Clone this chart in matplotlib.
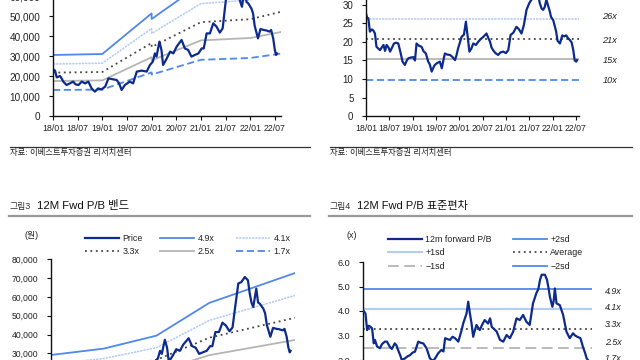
import matplotlib
matplotlib.use("Agg")
import matplotlib.pyplot as plt
from matplotlib.lines import Line2D
from matplotlib.ticker import FuncFormatter, FixedLocator

# ---------------- data ----------------
# months since 2018/01
price_m = [0, 0.5, 0.9, 1.7, 2.1, 2.5, 3.3, 4.1, 4.9, 5.5, 6.2, 7.0, 7.8, 8.6, 9.4, 10.2, 11.0, 11.8,
           12.7, 13.5, 14.7, 15.5, 16.1, 16.7, 17.5, 18.7, 19.5, 20.4, 21.6, 22.8, 23.6, 24.3, 24.8,
           25.2, 25.9, 26.4, 26.8, 27.7, 28.5, 29.3, 30.1, 31.3, 32.1, 32.9, 33.7, 34.5, 35.4, 36.2,
           36.7, 37.4, 38.2, 39.0, 39.8, 40.6, 41.3, 41.8, 42.6, 43.3, 44.1, 44.8, 45.2, 45.6, 46.0,
           46.7, 47.1, 47.5, 48.3, 48.7, 49.1, 49.9, 50.5, 51.3, 51.9, 52.7, 53.1, 53.6, 54.0, 54.3, 54.5]
price = [23300, 22700, 19300, 20000, 18800, 17200, 15500, 16300, 17200, 15800, 15500, 17200, 16300,
         17200, 13800, 12200, 13800, 13300, 14700, 18800, 18300, 18000, 16300, 13000, 15500, 17200,
         16300, 22200, 22700, 22200, 25500, 27200, 31300, 29700, 37200, 33000, 25500, 28800, 32200,
         31300, 34700, 38000, 33800, 33000, 29700, 30500, 31300, 33800, 33800, 41300, 41300, 46300,
         44700, 41700, 43800, 53000, 67100, 67900, 70600, 68800, 61900, 57000, 54600, 64400, 57000,
         56400, 53700, 51300, 45000, 38800, 43500, 43000, 42800, 42200, 43000, 38800, 33000, 30500, 31300]

# P/E band lines (top-left), values at knot months
pe_band_m = [0, 12, 24, 24.01, 36, 48, 55.5]
pe_band_a = [30500, 31000, 51300, 48500, 65900, 68000, 73200]
pe_band_b = [26000, 26400, 43700, 41300, 56200, 58000, 62400]
pe_band_c = [21700, 22000, 36500, 34500, 46900, 48400, 52100]
pe_band_d = [17500, 17800, 29400, 27800, 37800, 39000, 42000]
pe_band_e = [13000, 13200, 21800, 20700, 28100, 29000, 31200]

# 12M Fwd P/E (top-right)
pe_m = [0, 0.3, 0.6, 1.0, 1.5, 1.9, 2.3, 2.7, 3.2, 3.6, 4.1, 4.5, 4.9, 5.3, 5.8, 6.2, 6.7, 7.2, 7.8,
        8.3, 8.8, 9.4, 10.0, 10.5, 10.9, 11.5, 12.2, 12.6, 13.0, 13.6, 14.3, 14.8, 15.4, 16.0, 16.4,
        16.9, 17.3, 17.7, 18.3, 19.0, 19.5, 20.0, 20.3, 20.9, 21.6, 22.2, 22.9, 23.3, 23.7, 24.2,
        24.6, 25.2, 25.7, 26.1, 26.6, 27.1, 27.6, 28.3, 28.9, 29.5, 30.2, 31.0, 31.5, 31.9, 32.3,
        32.7, 33.3, 34.0, 34.6, 35.3, 36.0, 36.6, 37.2, 37.9, 38.7, 39.3, 40.0, 40.6, 41.3, 42.0,
        42.6, 43.3, 44.1, 44.7, 45.2, 45.6, 46.0, 46.4, 46.8, 47.3, 47.6, 48.2, 48.9, 49.3, 49.9,
        50.5, 51.0, 51.5, 52.0, 52.4, 52.9, 53.3, 53.7, 54.1, 54.3]
pe = [27.7, 26.5, 26.4, 22.8, 23.4, 23.1, 22.3, 18.7, 18.2, 17.8, 18.6, 19.2, 17.6, 19.2, 18.5, 17.4,
      18.5, 19.6, 19.8, 19.6, 17.5, 14.7, 13.8, 15.0, 15.6, 15.8, 15.9, 15.0, 19.6, 19.0, 18.7, 17.5,
      16.9, 14.7, 14.0, 12.0, 13.0, 13.8, 14.3, 14.7, 12.9, 15.5, 16.9, 16.6, 16.5, 16.0, 15.1, 16.5,
      18.3, 20.0, 21.4, 22.0, 25.5, 22.0, 17.4, 18.2, 19.6, 19.2, 20.1, 20.8, 21.4, 22.3, 21.0, 20.1,
      18.5, 17.8, 17.0, 16.5, 17.2, 17.4, 17.0, 17.8, 21.9, 22.5, 24.1, 23.5, 22.3, 24.5, 28.7, 30.5,
      31.5, 33.0, 34.0, 30.5, 29.0, 28.7, 29.5, 31.5, 30.0, 28.2, 26.8, 25.8, 22.9, 20.3, 19.6, 21.8,
      21.5, 21.8, 21.0, 20.6, 19.9, 18.0, 15.0, 14.7, 15.1]
pe_levels = [26.3, 20.9, 15.3, 9.7]
pe_level_labels = ["26x", "21x", "15x", "10x"]
pe_label_y = [26.8, 20.5, 14.9, 9.7]

# P/B band lines (bottom-left)
pb_band_m = [0, 12, 24, 36, 55.5]
pb_band_49 = [29100, 32500, 39400, 56800, 72700]
pb_band_41 = [24300, 27200, 33000, 47500, 60800]
pb_band_33 = [19600, 21900, 26500, 38300, 48900]
pb_band_25 = [14800, 16600, 20100, 29000, 37100]
pb_band_17 = [10100, 11300, 13700, 19700, 25200]

# 12M Fwd P/B (bottom-right)
pb_m = [0, 0.6, 1.0, 1.4, 1.8, 2.2, 2.6, 2.9, 3.4, 4.1, 4.6, 5.3, 5.8, 6.5, 7.0, 7.7, 8.1, 8.5, 9.0,
        9.4, 10.2, 10.8, 11.4, 12.0, 12.6, 13.4, 14.0, 14.6, 15.4, 16.2, 17.0, 17.6, 18.2, 19.0, 19.5,
        19.9, 20.5, 21.1, 21.7, 22.3, 23.1, 23.9, 24.3, 24.7, 25.1, 25.5, 25.9, 26.3, 26.7, 27.1,
        27.5, 28.3, 28.9, 29.5, 30.3, 30.8, 31.2, 31.6, 32.4, 33.2, 34.0, 34.8, 35.6, 36.4, 37.2,
        38.0, 38.8, 39.6, 40.4, 41.2, 42.0, 42.5, 42.9, 43.3, 44.1, 44.6, 45.0, 45.3, 45.9, 46.2,
        46.5, 46.9, 47.7, 48.5, 49.3, 50.1, 50.9, 51.4, 51.9, 52.7, 53.3, 53.8, 54.2, 54.5]
pb = [4.04, 3.90, 3.22, 3.40, 3.36, 3.29, 2.68, 2.82, 2.55, 2.48, 2.65, 2.75, 2.75, 2.54, 2.45, 2.68,
      2.60, 2.41, 2.20, 2.00, 2.07, 2.15, 2.20, 2.30, 2.34, 2.75, 2.70, 2.68, 2.48, 2.07, 1.95, 2.10,
      2.27, 2.41, 2.35, 2.89, 2.85, 2.82, 2.95, 2.89, 2.75, 3.22, 3.50, 3.70, 3.90, 4.38, 3.91, 3.50,
      2.95, 3.20, 3.43, 3.22, 3.45, 3.63, 3.49, 3.70, 3.35, 3.29, 3.16, 2.82, 2.75, 3.02, 2.89, 3.16,
      3.70, 3.63, 3.84, 3.56, 3.43, 4.31, 4.72, 4.90, 5.27, 5.48, 5.48, 5.27, 4.90, 4.58, 4.17, 4.40,
      4.92, 4.31, 4.24, 3.84, 3.16, 2.89, 3.09, 3.00, 2.95, 2.89, 2.54, 2.30, 2.07, 2.00]
pb_levels = [4.88, 4.07, 3.27, 2.47, 1.66]
pb_level_labels = ["4.9x", "4.1x", "3.3x", "2.5x", "1.7x"]
pb_label_y = [4.79, 4.13, 3.46, 2.72, 2.07]

xtick_pos = [0, 6, 12, 18, 24, 30, 36, 42, 48, 54]
xtick_labels = ["18/01", "18/07", "19/01", "19/07", "20/01", "20/07", "21/01", "21/07", "22/01", "22/07"]

# ---------------- style ----------------
plt.rcParams['font.family'] = ['Liberation Sans', 'Noto Sans CJK KR', 'DejaVu Sans']
plt.rcParams['axes.unicode_minus'] = False

NAVY = '#0d2a8e'
BLUE = '#5088ec'
LBLUE = '#b4cbf5'
DOT = '#444444'
GRAY = '#b5b5b5'
TXT = '#222222'
LFS = 6.4   # legend font size

W, H = 640, 360
fig = plt.figure(figsize=(6.4, 3.6), dpi=100)


def add_ax(l, r, top_px, bottom_px, yfs, xfs=6.3):
    ax = fig.add_axes([l / W, (H - bottom_px) / H, (r - l) / W, (bottom_px - top_px) / H])
    for s in ('top', 'right'):
        ax.spines[s].set_visible(False)
    for s in ('left', 'bottom'):
        ax.spines[s].set_linewidth(1.0)
        ax.spines[s].set_color('#111111')
    ax.tick_params(axis='both', colors='#111111', labelcolor=TXT, length=3, width=0.8)
    ax.tick_params(axis='y', pad=6, labelsize=yfs)
    ax.tick_params(axis='x', pad=2.5, labelsize=xfs)
    ax.set_facecolor('none')
    return ax


thousands = FuncFormatter(lambda v, p: f"{int(v):,}")

# ---- top-left: P/E band
ax1 = add_ax(53, 281, -24, 116, 7.2)
ax1.set_xlim(0, 55.5)
ax1.set_ylim(0, 70000)
ax1.plot(pe_band_m, pe_band_a, color=BLUE, lw=1.3)
ax1.plot(pe_band_m, pe_band_b, color=LBLUE, lw=1.1, ls=(0, (1.5, 0.6)))
ax1.plot(pe_band_m, pe_band_c, color=DOT, lw=1.3, ls=(0, (1, 2)))
ax1.plot(pe_band_m, pe_band_d, color=GRAY, lw=1.3)
ax1.plot(pe_band_m, pe_band_e, color=BLUE, lw=1.3, ls=(0, (4, 2)))
ax1.plot(price_m, price, color=NAVY, lw=1.6)
ax1.yaxis.set_major_locator(FixedLocator(range(0, 70001, 10000)))
ax1.yaxis.set_major_formatter(thousands)
ax1.set_xticks(xtick_pos, xtick_labels)

# ---- top-right: P/E
ax2 = add_ax(366, 579, -13.5, 116, 7.0)
ax2.set_xlim(0, 54.8)
ax2.set_ylim(0, 35)
ax2.axhline(pe_levels[0], color=LBLUE, lw=1.1, ls=(0, (1.5, 0.6)))
ax2.axhline(pe_levels[1], color=DOT, lw=1.3, ls=(0, (1, 2)))
ax2.axhline(pe_levels[2], color=GRAY, lw=1.3)
ax2.axhline(pe_levels[3], color=BLUE, lw=1.3, ls=(0, (4, 2)))
ax2.plot(pe_m, pe, color=NAVY, lw=1.6)
ax2.yaxis.set_major_locator(FixedLocator(range(0, 31, 5)))
ax2.set_xticks(xtick_pos, xtick_labels)
for lab, yv in zip(pe_level_labels, pe_label_y):
    ax2.text(1.11, yv, lab, transform=ax2.get_yaxis_transform(), fontsize=6.6,
             style='italic', va='center', ha='left', color=TXT)

# ---- bottom-left: P/B band
ax3 = add_ax(51, 295, 259.3, 409.7, 6.2)
ax3.set_xlim(0, 55.5)
ax3.set_ylim(0, 80000)
h_price, = ax3.plot(price_m, price, color=NAVY, lw=1.6, label='Price', zorder=5)
h49, = ax3.plot(pb_band_m, pb_band_49, color=BLUE, lw=1.3, label='4.9x')
h41, = ax3.plot(pb_band_m, pb_band_41, color=LBLUE, lw=1.1, ls=(0, (1.5, 0.6)), label='4.1x')
h33, = ax3.plot(pb_band_m, pb_band_33, color=DOT, lw=1.3, ls=(0, (1, 2)), label='3.3x')
h25, = ax3.plot(pb_band_m, pb_band_25, color=GRAY, lw=1.3, label='2.5x')
h17, = ax3.plot(pb_band_m, pb_band_17, color=BLUE, lw=1.3, ls=(0, (4, 2)), label='1.7x')
ax3.yaxis.set_major_locator(FixedLocator(range(0, 80001, 10000)))
ax3.yaxis.set_major_formatter(thousands)
ax3.set_xticks(xtick_pos, xtick_labels)

# ---- bottom-right: P/B std
ax4 = add_ax(363, 592, 262, 409, 6.6)
ax4.set_xlim(0, 55.5)
ax4.set_ylim(0, 6)
g_p2 = ax4.axhline(pb_levels[0], color=BLUE, lw=1.3, label='+2sd')
g_p1 = ax4.axhline(pb_levels[1], color=LBLUE, lw=1.5, label='+1sd')
g_av = ax4.axhline(pb_levels[2], color=DOT, lw=1.3, ls=(0, (1, 2)), label='Average')
g_m1 = ax4.axhline(pb_levels[3], color=GRAY, lw=1.3, ls=(0, (6, 3)), label='\u22121sd')
g_m2 = ax4.axhline(pb_levels[4], color=BLUE, lw=1.3, label='\u22122sd')
g_pb, = ax4.plot(pb_m, pb, color=NAVY, lw=1.6, label='12m forward P/B', zorder=5)
ax4.yaxis.set_major_locator(FixedLocator([0, 1, 2, 3, 4, 5, 6]))
ax4.yaxis.set_major_formatter(FuncFormatter(lambda v, p: f"{v:.1f}"))
ax4.set_xticks(xtick_pos, xtick_labels)
for lab, yv in zip(pb_level_labels, pb_label_y):
    ax4.text(1.057, yv, lab, transform=ax4.get_yaxis_transform(), fontsize=6.4,
             style='italic', va='center', ha='left', color=TXT)


# ---- legends (one per column)
def col_legend(handles, x_px, top_px):
    leg = fig.legend(handles=handles, loc='upper left', bbox_to_anchor=(x_px / W, (H - top_px) / H),
                     bbox_transform=fig.transFigure, frameon=False, fontsize=LFS, handlelength=3.8,
                     handletextpad=0.4, borderpad=0, borderaxespad=0, labelspacing=0.5)
    for t in leg.get_texts():
        t.set_color(TXT)
    return leg


col_legend([h_price, h33], 85, 234)
col_legend([h49, h25], 160, 234)
col_legend([h41, h17], 236, 234)
col_legend([g_pb, g_p1, g_m1], 388, 235)
col_legend([g_p2, g_av, g_m2], 513, 235)

# ---- texts and rules
src = '자료: 이베스트투자증권 리서치센터'
fig.text(10 / W, 1 - 153 / H, src, fontsize=6.0, va='center', ha='left', color=TXT)
fig.text(330 / W, 1 - 153 / H, src, fontsize=6.0, va='center', ha='left', color=TXT)
fig.add_artist(Line2D([10 / W, 310 / W], [1 - 147 / H] * 2, color='#333333', lw=0.9))
fig.add_artist(Line2D([330 / W, 632 / W], [1 - 147 / H] * 2, color='#333333', lw=0.9))

fig.text(9 / W, 1 - 207 / H, '그림3', fontsize=6.4, va='center', ha='left', color='#333333')
fig.text(37 / W, 1 - 206 / H, '12M Fwd P/B 밴드', fontsize=8.2, va='center', ha='left', color='#111111')
fig.text(329 / W, 1 - 207 / H, '그림4', fontsize=6.4, va='center', ha='left', color='#333333')
fig.text(357 / W, 1 - 206 / H, '12M Fwd P/B 표준편차', fontsize=8.0, va='center', ha='left', color='#111111')
fig.add_artist(Line2D([9 / W, 310 / W], [1 - 216 / H] * 2, color='#999999', lw=1.6))
fig.add_artist(Line2D([329 / W, 632 / W], [1 - 216 / H] * 2, color='#999999', lw=1.6))

fig.text(32 / W, 1 - 235 / H, '(원)', fontsize=6.4, va='center', ha='center', color=TXT)
fig.text(352 / W, 1 - 236 / H, '(x)', fontsize=6.4, va='center', ha='center', color=TXT)

fig.savefig('out.png', dpi=100)
